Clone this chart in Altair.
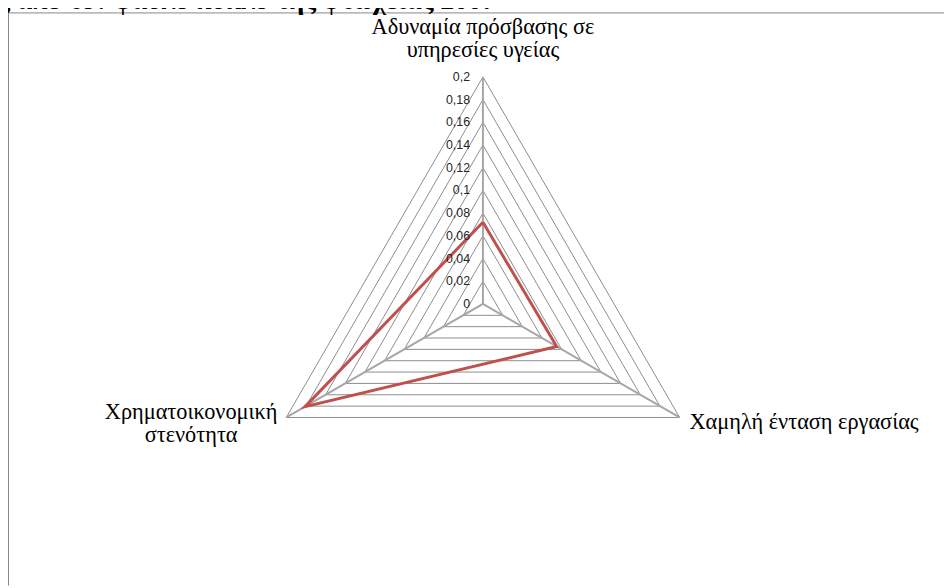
import altair as alt
import pandas as pd
import numpy as np

# ---- data ----
categories = ["Αδυναμία πρόσβασης σε\nυπηρεσίες υγείας", "Χαμηλή ένταση εργασίας", "Χρηματοικονομική\nστενότητα"]
category_angles = [0, 120, 240]
values_2007 = [0.072, 0.075, 0.181]
grid_levels = [0.02, 0.04, 0.06, 0.08, 0.10, 0.12, 0.14, 0.16, 0.18, 0.20]
tick_values = [0, 0.02, 0.04, 0.06, 0.08, 0.10, 0.12, 0.14, 0.16, 0.18, 0.20]
tick_labels = ["0", "0,02", "0,04", "0,06", "0,08", "0,1", "0,12", "0,14", "0,16", "0,18", "0,2"]
title_text = "ής από τον φαύλο κύκλο της φτώχειας 2007"
max_value = 0.2

W, H = 944, 580


def polar(r, ang):
    a = np.deg2rad(ang)
    return r * np.sin(a), r * np.cos(a)


grid_rows = []
for lv in grid_levels:
    for k in range(4):
        x, y = polar(lv, category_angles[k % 3])
        grid_rows.append({"level": lv, "k": k, "x": x, "y": y})
grid_df = pd.DataFrame(grid_rows)

spoke_rows = []
for c, ang in zip(categories, category_angles):
    x, y = polar(max_value, ang)
    spoke_rows.append({"cat": c, "k": 0, "x": 0.0, "y": 0.0})
    spoke_rows.append({"cat": c, "k": 1, "x": x, "y": y})
spoke_df = pd.DataFrame(spoke_rows)

data_rows = []
for k in range(4):
    i = k % 3
    x, y = polar(values_2007[i], category_angles[i])
    data_rows.append({"k": k, "x": x, "y": y, "cat": categories[i], "value": values_2007[i]})
data_df = pd.DataFrame(data_rows)

tick_df = pd.DataFrame({"x": [0.0] * len(tick_values), "y": tick_values, "label": tick_labels})

lab_rows = []
for c, ang in zip(categories, category_angles):
    x, y = polar(max_value, ang)
    lab_rows.append({"cat": c, "x": x, "y": y})
lab_df = pd.DataFrame(lab_rows)

# scales: centre of the radar at svg (479, 296), 0.2 -> 229 px
px_per_unit = 229 / max_value
cx, cy = 479, 296
xdom = [-cx / px_per_unit, (W - cx) / px_per_unit]
ydom = [-(H - cy) / px_per_unit, cy / px_per_unit]
xs = alt.Scale(domain=xdom, nice=False, zero=False)
ys = alt.Scale(domain=ydom, nice=False, zero=False)
X = alt.X("x:Q", scale=xs, axis=None)
Y = alt.Y("y:Q", scale=ys, axis=None)

grid = alt.Chart(grid_df).mark_line(color="#8c8c8c", strokeWidth=1).encode(
    x=X, y=Y, detail="level:N", order="k:Q")

spokes = alt.Chart(spoke_df).mark_line(color="#a6a6a6", strokeWidth=2).encode(
    x=X, y=Y, detail="cat:N", order="k:Q")

series = alt.Chart(data_df).mark_line(color="#c0504d", strokeWidth=3, strokeJoin="miter").encode(
    x=X, y=Y, order="k:Q")

ticks = alt.Chart(tick_df).mark_text(
    align="right", baseline="middle", dx=-13, font="Liberation Sans", fontSize=12.5, color="#262626"
).encode(x=X, y=Y, text="label:N")

serif = "Liberation Serif"
FS = 22.5
lab_top = alt.Chart(lab_df).transform_filter(alt.datum.cat == categories[0]).mark_text(
    align="center", baseline="alphabetic", dy=-43, lineBreak="\n", lineHeight=23,
    font=serif, fontSize=FS, color="#000000"
).encode(x=X, y=Y, text="cat:N")

lab_right = alt.Chart(lab_df).transform_filter(alt.datum.cat == categories[1]).mark_text(
    align="left", baseline="alphabetic", dx=10, dy=12,
    font=serif, fontSize=FS, color="#000000"
).encode(x=X, y=Y, text="cat:N")

lab_left = alt.Chart(lab_df).transform_filter(alt.datum.cat == categories[2]).mark_text(
    align="center", baseline="alphabetic", dx=-96, dy=2, lineBreak="\n", lineHeight=23,
    font=serif, fontSize=FS, color="#000000"
).encode(x=X, y=Y, text="cat:N")

frame_v = alt.Chart(pd.DataFrame({"a": [0]})).mark_rule(color="#868686", strokeWidth=1).encode(
    x=alt.value(0.5), y=alt.value(2), y2=alt.value(H))
frame_h = alt.Chart(pd.DataFrame({"a": [0]})).mark_rule(color="#868686", strokeWidth=1).encode(
    x=alt.value(0), x2=alt.value(W), y=alt.value(2.5))

title = alt.Chart(pd.DataFrame({"t": [title_text]})).mark_text(
    align="right", baseline="alphabetic", font=serif, fontSize=28, fontWeight="bold", color="#000000"
).encode(x=alt.value(492), y=alt.value(-1.5), text="t:N")

chart = alt.layer(
    frame_v, frame_h, title, grid, spokes, series, ticks, lab_top, lab_right, lab_left
).properties(
    width=W, height=H, autosize=alt.AutoSizeParams(type="none"), padding=0
).configure_view(stroke=None)

chart.save("out.html", embed_options={"renderer": "svg", "actions": False})
